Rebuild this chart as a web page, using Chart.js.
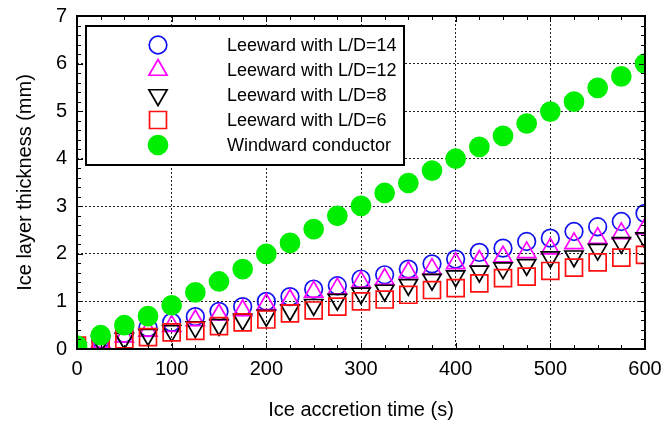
<!DOCTYPE html>
<html>
<head>
<meta charset="utf-8">
<script src="https://cdn.jsdelivr.net/npm/chart.js@4/dist/chart.umd.min.js"></script>
<style>
  html, body { margin: 0; padding: 0; background: #fff; }
  #wrap { width: 664px; height: 429px; }
</style>
</head>
<body>
<div id="wrap"><canvas id="chart" width="664" height="429"></canvas></div>
<script>
'use strict';

// ice accretion time (s)
var times = [0, 25, 50, 75, 100, 125, 150, 175, 200, 225, 250, 275, 300,
  325, 350, 375, 400, 425, 450, 475, 500, 525, 550, 575, 600];

// ice layer thickness (mm)
var leeward14 = [0.05, 0.2, 0.33, 0.45, 0.56, 0.68, 0.79, 0.89, 1.0, 1.1, 1.26, 1.33, 1.47,
  1.56, 1.68, 1.79, 1.89, 2.03, 2.12, 2.26, 2.33, 2.47, 2.57, 2.68, 2.85];
var leeward12 = [0.03, 0.15, 0.26, 0.38, 0.48, 0.6, 0.72, 0.81, 0.94, 1.03, 1.2, 1.27, 1.41,
  1.47, 1.61, 1.68, 1.8, 1.85, 1.94, 2.03, 2.11, 2.22, 2.33, 2.43, 2.53];
var leeward8 = [0.02, 0.15, 0.22, 0.3, 0.38, 0.46, 0.51, 0.62, 0.7, 0.82, 0.93, 1.04, 1.17,
  1.23, 1.35, 1.46, 1.53, 1.63, 1.7, 1.77, 1.93, 1.95, 2.09, 2.23, 2.33];
var leeward6 = [0.07, 0.14, 0.2, 0.25, 0.35, 0.38, 0.48, 0.56, 0.62, 0.75, 0.81, 0.89, 1.0,
  1.04, 1.14, 1.24, 1.28, 1.38, 1.49, 1.52, 1.64, 1.71, 1.82, 1.92, 1.98];
var windward = [0.07, 0.29, 0.5, 0.69, 0.92, 1.19, 1.42, 1.68, 2.0, 2.23, 2.52, 2.8, 3.01,
  3.28, 3.49, 3.75, 4.0, 4.25, 4.48, 4.74, 4.99, 5.2, 5.49, 5.73, 6.0];

var xTicks = [0, 100, 200, 300, 400, 500, 600];
var yTicks = [0, 1, 2, 3, 4, 5, 6, 7];

var seriesNames = ['Leeward with L/D=14', 'Leeward with L/D=12', 'Leeward with L/D=8',
  'Leeward with L/D=6', 'Windward conductor'];

var FONT = '"Liberation Sans", Arial, sans-serif';

function toPoints(ys) {
  var pts = [];
  for (var i = 0; i < times.length; i++) {
    pts.push({ x: times[i], y: ys[i] });
  }
  return pts;
}

function series(label, ys, style, color, fill, radius, rotation, order) {
  return {
    label: label,
    data: toPoints(ys),
    pointStyle: style,
    pointRadius: radius,
    pointHoverRadius: radius,
    pointRotation: rotation,
    pointBorderColor: color,
    pointBackgroundColor: fill,
    pointBorderWidth: 1.7,
    showLine: false,
    order: order
  };
}

var datasets = [
  series(seriesNames[0], leeward14, 'circle', '#1010ee', 'rgba(0,0,0,0)', 8.8, 0, 5),
  series(seriesNames[1], leeward12, 'triangle', '#ff00ff', 'rgba(0,0,0,0)', 10.5, 0, 4),
  series(seriesNames[2], leeward8, 'triangle', '#000000', 'rgba(0,0,0,0)', 10.5, 180, 3),
  series(seriesNames[3], leeward6, 'rect', '#ff1010', 'rgba(0,0,0,0)', 12, 0, 2),
  series(seriesNames[4], windward, 'circle', '#00ee00', '#00ee00', 9.5, 0, 1)
];

// frame, inward minor/major ticks and the boxed legend
var framePlugin = {
  id: 'frame',
  afterDatasetsDraw: function (chart) {
    var ctx = chart.ctx;
    var a = chart.chartArea;
    var xs = chart.scales.x;
    var ys = chart.scales.y;
    var v, px, len;
    ctx.save();
    ctx.strokeStyle = '#000';
    ctx.lineWidth = 1;
    ctx.beginPath();
    for (v = 0; v <= 600; v += 25) {
      px = Math.round(xs.getPixelForValue(v)) + 0.5;
      len = v % 100 === 0 ? 6 : 4;
      ctx.moveTo(px, a.bottom); ctx.lineTo(px, a.bottom - len);
      ctx.moveTo(px, a.top); ctx.lineTo(px, a.top + len);
    }
    for (v = 0; v <= 35; v += 1) {
      px = Math.round(ys.getPixelForValue(v / 5)) + 0.5;
      len = v % 5 === 0 ? 6 : 4;
      ctx.moveTo(a.left, px); ctx.lineTo(a.left + len, px);
      ctx.moveTo(a.right, px); ctx.lineTo(a.right - len, px);
    }
    ctx.stroke();
    ctx.lineWidth = 2;
    ctx.strokeRect(a.left, a.top, a.right - a.left, a.bottom - a.top);

    // legend box
    var bx = 86, by = 26, bw = 318, bh = 139;
    ctx.fillStyle = '#fff';
    ctx.fillRect(bx, by, bw, bh);
    ctx.lineWidth = 2;
    ctx.strokeStyle = '#000';
    ctx.strokeRect(bx, by, bw, bh);
    var rowY = [45, 70, 95, 120, 145];
    ctx.font = '18px ' + FONT;
    ctx.textBaseline = 'middle';
    ctx.textAlign = 'left';
    for (var i = 0; i < chart.data.datasets.length; i++) {
      var ds = chart.data.datasets[i];
      ctx.save();
      ctx.strokeStyle = ds.pointBorderColor;
      ctx.fillStyle = ds.pointBackgroundColor;
      ctx.lineWidth = ds.pointBorderWidth;
      Chart.helpers.drawPoint(ctx, {
        pointStyle: ds.pointStyle,
        rotation: ds.pointRotation,
        radius: ds.pointRadius,
        borderWidth: ds.pointBorderWidth
      }, 158, rowY[i]);
      ctx.restore();
      ctx.fillStyle = '#000';
      ctx.fillText(ds.label, 227, rowY[i] + 1);
    }
    ctx.restore();
  }
};

new Chart(document.getElementById('chart'), {
  type: 'scatter',
  data: { datasets: datasets },
  options: {
    responsive: false,
    animation: false,
    layout: { padding: { left: 0, right: 19, top: 16, bottom: 0 } },
    plugins: {
      legend: { display: false },
      tooltip: { enabled: false }
    },
    scales: {
      x: {
        type: 'linear',
        min: 0,
        max: 600,
        afterBuildTicks: function (scale) {
          scale.ticks = xTicks.map(function (v) { return { value: v }; });
        },
        afterFit: function (scale) {
          scale.height = 80;
          scale.paddingLeft = 0;
          scale.paddingRight = 0;
        },
        grid: { color: '#222', lineWidth: 1, drawTicks: false },
        border: { display: false, dash: [2, 2] },
        ticks: { color: '#000', padding: 8, maxRotation: 0, font: { family: FONT, size: 20 } },
        title: {
          display: true,
          text: 'Ice accretion time (s)',
          color: '#000',
          padding: { top: 0, bottom: 7 },
          font: { family: FONT, size: 20 }
        }
      },
      y: {
        type: 'linear',
        min: 0,
        max: 7,
        afterBuildTicks: function (scale) {
          scale.ticks = yTicks.map(function (v) { return { value: v }; });
        },
        afterFit: function (scale) {
          scale.width = 77;
          scale.paddingTop = 0;
          scale.paddingBottom = 0;
        },
        grid: { color: '#222', lineWidth: 1, drawTicks: false },
        border: { display: false, dash: [2, 2] },
        ticks: { color: '#000', padding: 10, font: { family: FONT, size: 20 } },
        title: {
          display: true,
          text: 'Ice layer thickness (mm)',
          color: '#000',
          padding: { top: 13, bottom: 0 },
          font: { family: FONT, size: 20 }
        }
      }
    }
  },
  plugins: [framePlugin]
});
</script>
</body>
</html>
